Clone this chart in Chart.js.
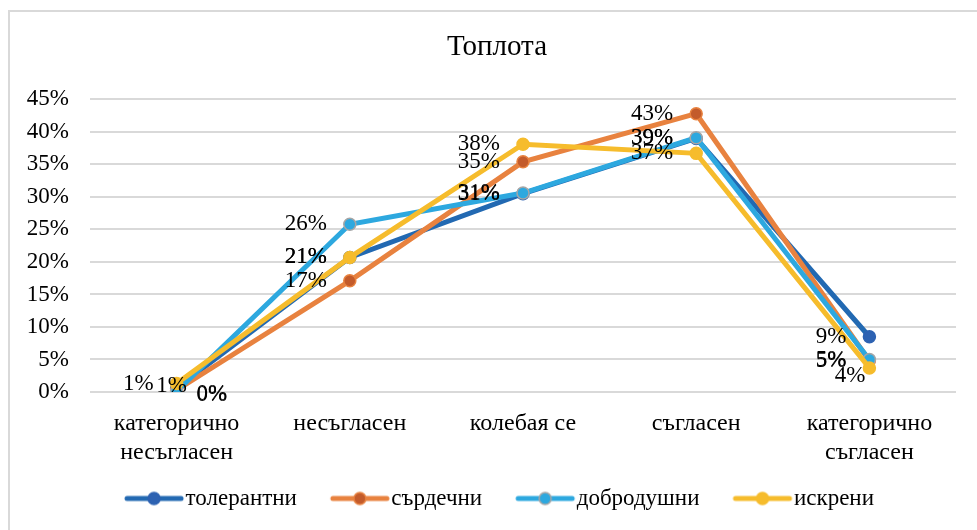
<!DOCTYPE html>
<html>
<head>
<meta charset="utf-8">
<script src="https://cdn.jsdelivr.net/npm/chart.js@4.4.1/dist/chart.umd.min.js"></script>
<style>
  html, body { margin: 0; padding: 0; background: #fff; overflow: hidden; }
  #wrap { position: relative; width: 977px; height: 530px; }
  #frame { position: absolute; left: 8px; top: 10px; width: 1100px; height: 700px; border: 2px solid #d9d9d9; }
  #c { position: absolute; left: 0; top: 0; }
</style>
</head>
<body>
<div id="wrap">
  <div id="frame"></div>
  <canvas id="c" width="977" height="530"></canvas>
</div>
<script>
// chart data
const categories = [
  ['категорично', 'несъгласен'],
  'несъгласен',
  'колебая се',
  'съгласен',
  ['категорично', 'съгласен']
];
const seriesNames = ['толерантни', 'сърдечни', 'добродушни', 'искрени'];
const tolerant = [0.006, 0.207, 0.305, 0.390, 0.085];
const cordial  = [0.003, 0.171, 0.354, 0.428, 0.048];
const kind     = [0.001, 0.258, 0.306, 0.391, 0.050];
const sincere  = [0.013, 0.207, 0.381, 0.367, 0.037];
const yTicks = [0, 0.05, 0.10, 0.15, 0.20, 0.25, 0.30, 0.35, 0.40, 0.45];

// where each value label sits next to its point (l = left, r = right, c = centre, bl = below-left)
const labelPos = [
  ['c', 'l', 'l', 'l', 'l'],
  ['r', 'l', 'l', 'l', 'l'],
  ['r', 'l', 'l', 'l', 'l'],
  ['l', 'l', 'l', 'l', 'bl']
];

const SERIF = '"Liberation Serif", "Times New Roman", serif';
const lineColors = ['#2269b2', '#e8823f', '#2da8df', '#f6bc2c'];
const markerFill = ['#2d62b2', '#c35b2b', '#2da8df', '#f6bc2c'];
const markerEdge = ['#2d62b2', '#e8823f', '#a6a6a6', '#f6bc2c'];

// legend swatch: thick line with a marker in the middle
function swatch(i) {
  const cv = document.createElement('canvas');
  cv.width = 68; cv.height = 16;
  const g = cv.getContext('2d');
  g.strokeStyle = lineColors[i];
  g.lineWidth = 5;
  g.lineCap = 'round';
  g.beginPath(); g.moveTo(10, 8); g.lineTo(64, 8); g.stroke();
  g.beginPath(); g.arc(37, 8, 6, 0, Math.PI * 2);
  g.fillStyle = markerFill[i]; g.fill();
  g.lineWidth = 1.5; g.strokeStyle = markerEdge[i]; g.stroke();
  return cv;
}

const valueLabels = {
  id: 'valueLabels',
  afterDatasetsDraw(chart) {
    const ctx = chart.ctx;
    ctx.save();
    ctx.font = '23px ' + SERIF;
    ctx.fillStyle = '#000';
    ctx.textBaseline = 'middle';
    chart.data.datasets.forEach((ds, i) => {
      const meta = chart.getDatasetMeta(i);
      meta.data.forEach((pt, j) => {
        const txt = Math.round(ds.data[j] * 100) + '%';
        const pos = labelPos[i][j];
        let x = pt.x, y = pt.y;
        if (pos === 'l') { ctx.textAlign = 'right'; x -= 23; }
        else if (pos === 'r') { ctx.textAlign = 'left'; x += 20; y += 4; }
        else if (pos === 'c') { ctx.textAlign = 'center'; x -= 5; y -= 2; }
        else { ctx.textAlign = 'right'; x -= 4; y += 8; }
        ctx.fillText(txt, x, y);
      });
    });
    ctx.restore();
  }
};

// nudge title and legend so they sit like the original
const nudge = {
  id: 'nudge',
  afterLayout(chart) {
    chart.titleBlock.left += 9; chart.titleBlock.right += 9;
    chart.legend.left += 13; chart.legend.right += 13;
    chart.legend.top -= 17; chart.legend.bottom -= 17;
  }
};

const allSeries = [tolerant, cordial, kind, sincere];

new Chart(document.getElementById('c'), {
  type: 'line',
  data: {
    labels: categories,
    datasets: allSeries.map((vals, i) => ({
      label: seriesNames[i],
      data: vals,
      order: 4 - i,
      borderColor: lineColors[i],
      backgroundColor: lineColors[i],
      borderWidth: 5,
      pointRadius: 6,
      pointBackgroundColor: markerFill[i],
      pointBorderColor: markerEdge[i],
      pointBorderWidth: 1.5,
      tension: 0,
      fill: false
    }))
  },
  options: {
    responsive: false,
    animation: false,
    layout: { padding: { left: 20, right: 21, top: 0, bottom: -7 } },
    scales: {
      x: {
        offset: true,
        grid: { display: false },
        border: { display: false },
        ticks: {
          color: '#000',
          padding: 9,
          maxRotation: 0,
          autoSkip: false,
          font: { family: SERIF, size: 24, lineHeight: 1.21 }
        },
        afterFit(s) { s.height = 75; }
      },
      y: {
        min: 0,
        max: 0.45,
        afterBuildTicks(s) { s.ticks = yTicks.map(v => ({ value: v })); },
        grid: { color: '#d9d9d9', lineWidth: 2, drawTicks: false },
        border: { display: false },
        ticks: {
          color: '#000',
          padding: 21,
          font: { family: SERIF, size: 23 },
          callback: v => Math.round(v * 100) + '%'
        },
        afterFit(s) { s.width = 70; }
      }
    },
    plugins: {
      title: {
        display: true,
        text: 'Топлота',
        color: '#000',
        font: { family: SERIF, size: 29, weight: 'normal', lineHeight: 1.2 },
        padding: { top: 30, bottom: 34.6 }
      },
      legend: {
        position: 'bottom',
        labels: {
          color: '#000',
          font: { family: SERIF, size: 23 },
          usePointStyle: true,
          pointStyleWidth: 46,
          padding: 37,
          generateLabels(chart) {
            const items = Chart.defaults.plugins.legend.labels.generateLabels(chart);
            items.sort((a, b) => a.datasetIndex - b.datasetIndex);
            items.forEach(it => { it.pointStyle = swatch(it.datasetIndex); });
            return items;
          }
        }
      },
      tooltip: { enabled: false }
    }
  },
  plugins: [valueLabels, nudge]
});
</script>
</body>
</html>
